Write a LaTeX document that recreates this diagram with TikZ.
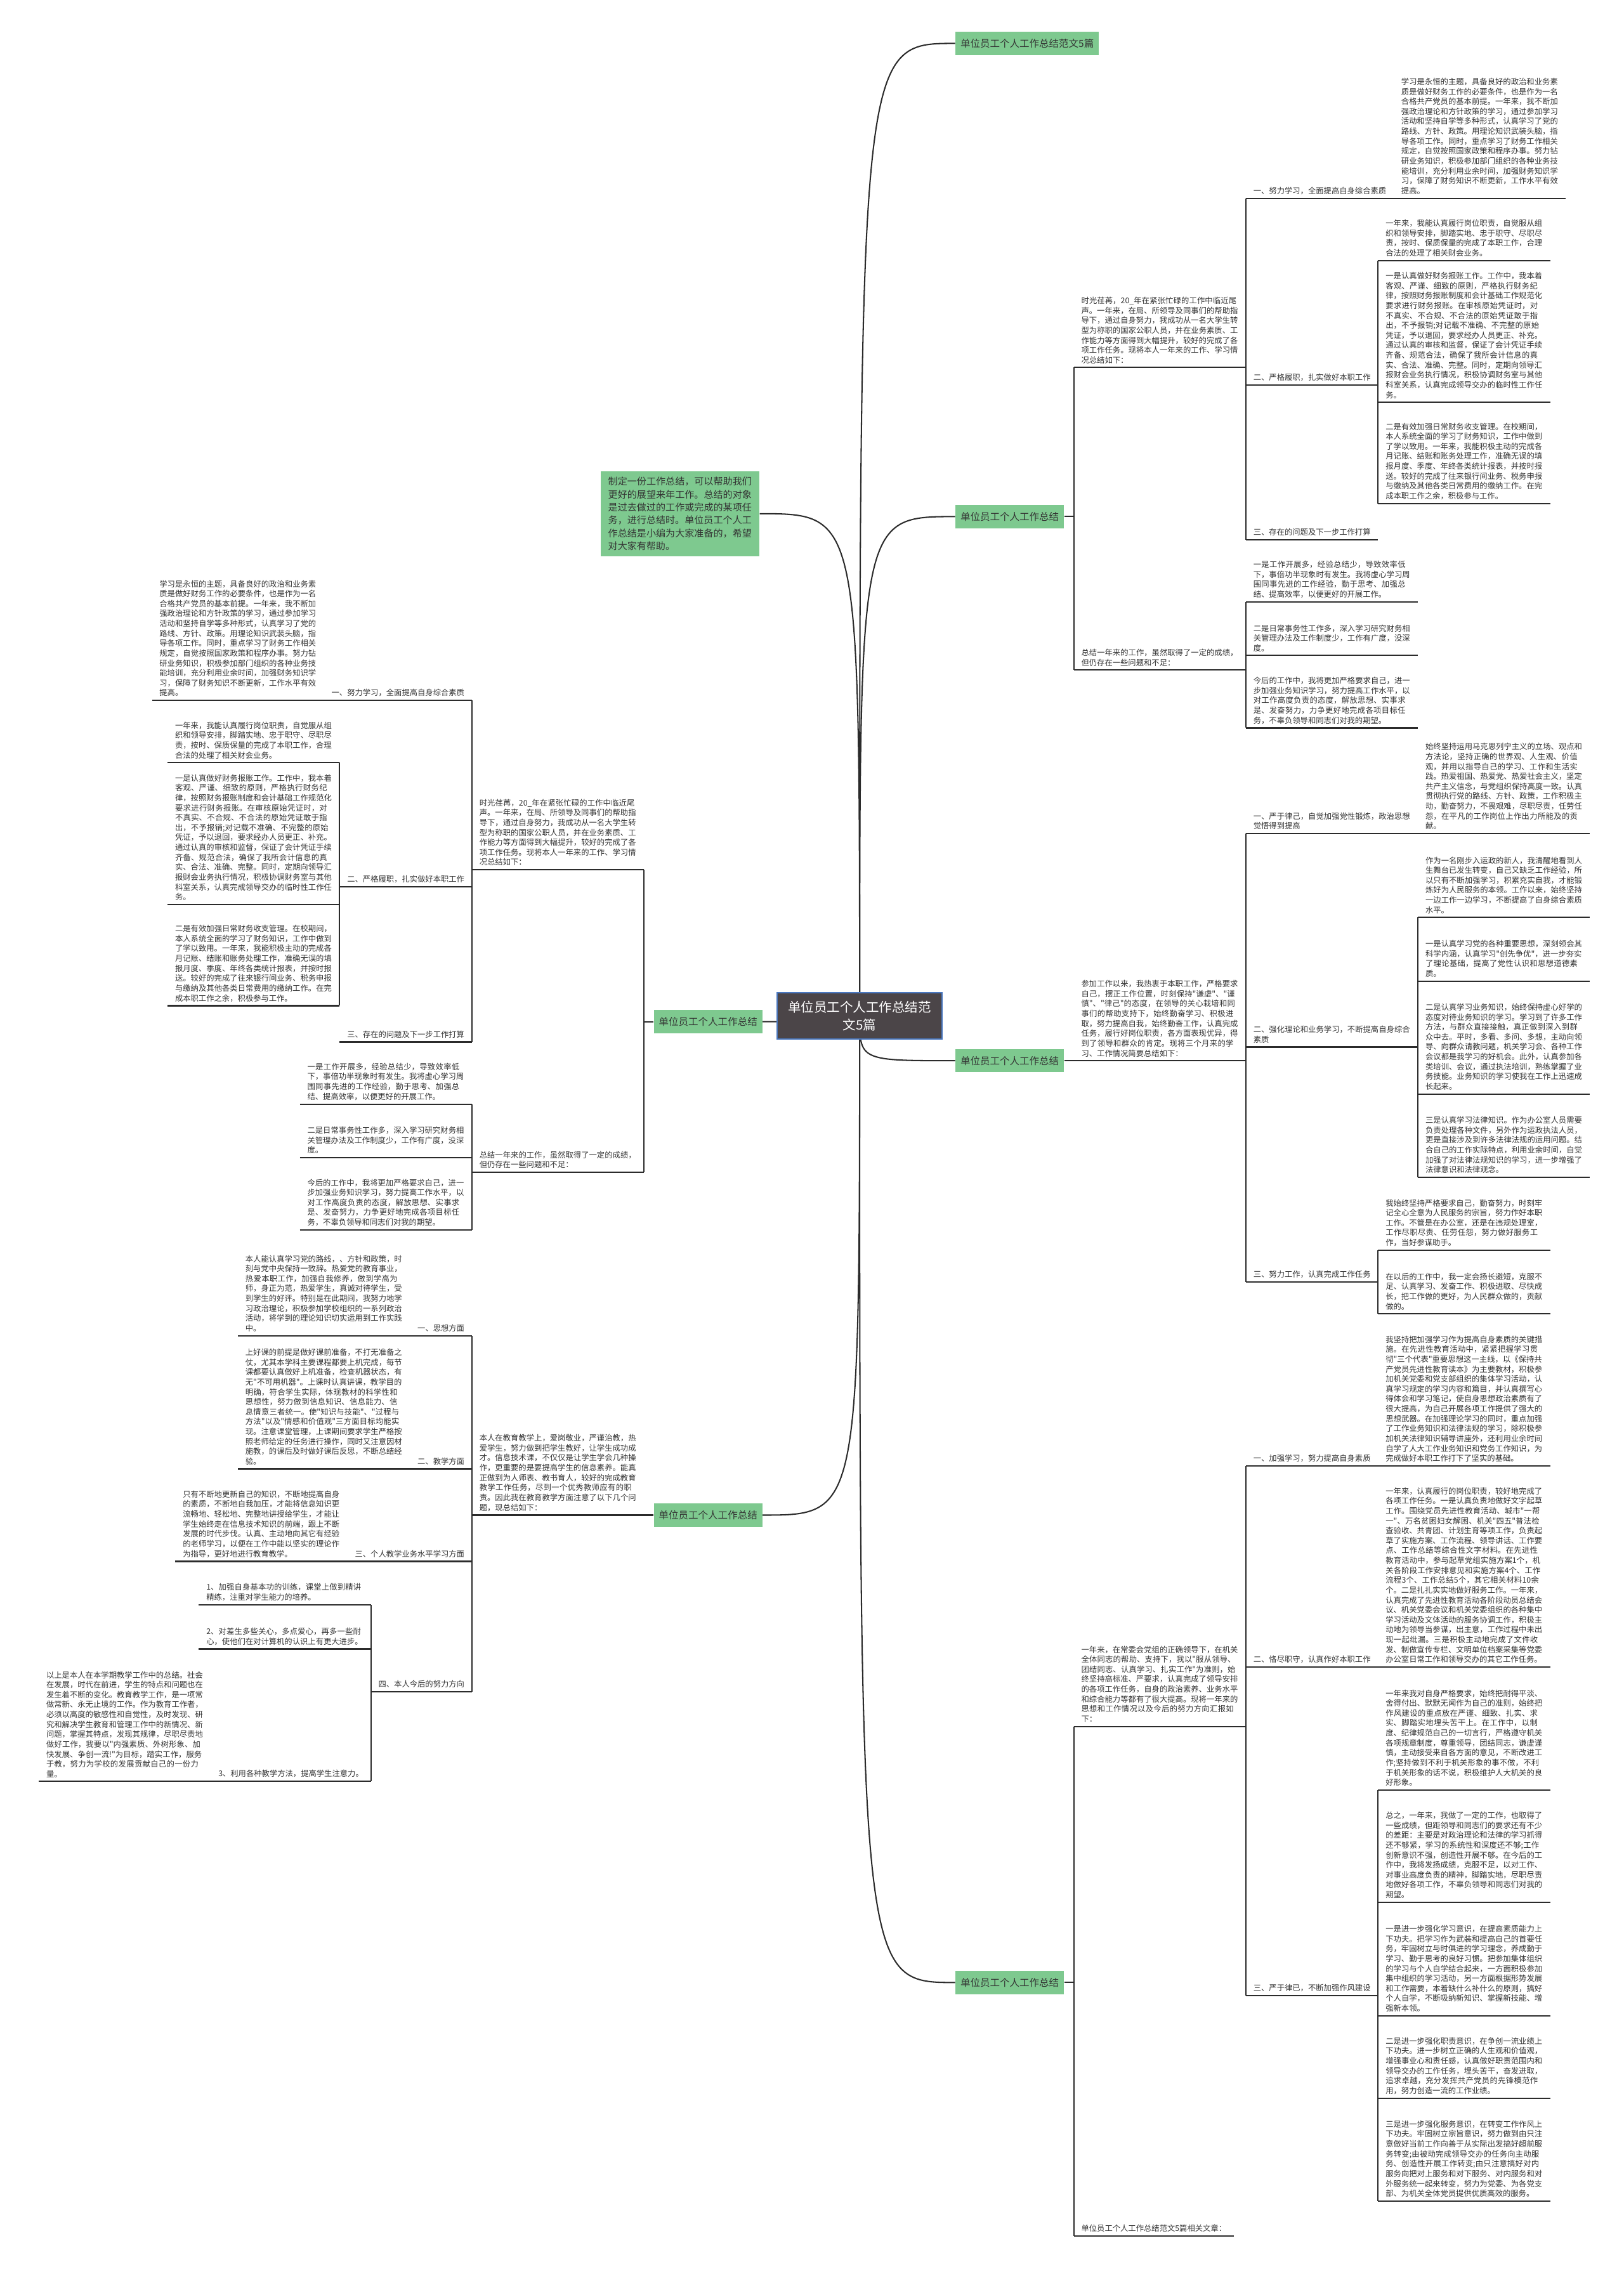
\documentclass[tikz,border=0pt]{standalone}
\usepackage{fontspec}
\usepackage{xcolor}
\usepackage{tikz}
\newfontfamily\cjk{Noto Sans CJK SC}
\XeTeXlinebreaklocale "zh"
\XeTeXlinebreakskip=0pt plus 0.5pt

\definecolor{lnk}{HTML}{2B2B2B}
\definecolor{ink}{HTML}{333333}
\definecolor{leafgreen}{RGB}{126,201,143}
\definecolor{rootfill}{HTML}{4B4548}
\definecolor{rootline}{HTML}{4A78C0}

% texts used on both sides
\newcommand{\tShiguang}{时光荏苒，20\_年在紧张忙碌的工作中临近尾声。一年来，在局、所领导及同事们的帮助指导下，通过自身努力，我成功从一名大学生转型为称职的国家公职人员，并在业务素质、工作能力等方面得到大幅提升，较好的完成了各项工作任务。现将本人一年来的工作、学习情况总结如下：}
\newcommand{\tZongjie}{总结一年来的工作，虽然取得了一定的成绩，但仍存在一些问题和不足：}
\newcommand{\tHeadA}{一、努力学习，全面提高自身综合素质}
\newcommand{\tStudy}{学习是永恒的主题，具备良好的政治和业务素质是做好财务工作的必要条件，也是作为一名合格共产党员的基本前提。一年来，我不断加强政治理论和方针政策的学习，通过参加学习活动和坚持自学等多种形式，认真学习了党的路线、方针、政策。用理论知识武装头脑，指导各项工作。同时，重点学习了财务工作相关规定，自觉按照国家政策和程序办事。努力钻研业务知识，积极参加部门组织的各种业务技能培训，充分利用业余时间，加强财务知识学习，保障了财务知识不断更新，工作水平有效提高。}
\newcommand{\tHeadB}{二、严格履职，扎实做好本职工作}
\newcommand{\tDutyA}{一年来，我能认真履行岗位职责，自觉服从组织和领导安排，脚踏实地、忠于职守、尽职尽责，按时、保质保量的完成了本职工作，合理合法的处理了相关财会业务。}
\newcommand{\tDutyB}{一是认真做好财务报账工作。工作中，我本着客观、严谨、细致的原则，严格执行财务纪律，按照财务报账制度和会计基础工作规范化要求进行财务报账。在审核原始凭证时，对不真实、不合规、不合法的原始凭证敢于指出，不予报销;对记载不准确、不完整的原始凭证，予以退回，要求经办人员更正、补充。通过认真的审核和监督，保证了会计凭证手续齐备、规范合法，确保了我所会计信息的真实、合法、准确、完整。同时，定期向领导汇报财会业务执行情况，积极协调财务室与其他科室关系，认真完成领导交办的临时性工作任务。}
\newcommand{\tDutyC}{二是有效加强日常财务收支管理。在校期间，本人系统全面的学习了财务知识，工作中做到了学以致用。一年来，我能积极主动的完成各月记账、结账和账务处理工作，准确无误的填报月度、季度、年终各类统计报表，并按时报送。较好的完成了往来银行间业务、税务申报与缴纳及其他各类日常费用的缴纳工作。在完成本职工作之余，积极参与工作。}
\newcommand{\tHeadC}{三、存在的问题及下一步工作打算}
\newcommand{\tSumA}{一是工作开展多，经验总结少，导致效率低下，事倍功半现象时有发生。我将虚心学习周围同事先进的工作经验，勤于思考、加强总结、提高效率，以便更好的开展工作。}
\newcommand{\tSumB}{二是日常事务性工作多，深入学习研究财务相关管理办法及工作制度少，工作有广度，没深度。}
\newcommand{\tSumC}{今后的工作中，我将更加严格要求自己，进一步加强业务知识学习，努力提高工作水平，以对工作高度负责的态度，解放思想、实事求是、发奋努力，力争更好地完成各项目标任务，不辜负领导和同志们对我的期望。}

\tikzset{
  link/.style={draw=lnk, line width=0.9pt},
  txt/.style={font=\cjk\fontsize{5.4pt}{6.85pt}\selectfont, text=ink, inner xsep=5pt, inner ysep=2.5pt},
  blockr/.style={txt, text width=108.5pt, align=left, anchor=south west},
  blockl/.style={blockr, anchor=south east},
  headr/.style={txt, anchor=south west},
  headl/.style={txt, anchor=south east},
  branch/.style={fill=leafgreen, text=ink, font=\cjk\fontsize{6.8pt}{8pt}\selectfont, inner xsep=3.5pt, inner ysep=0pt, minimum height=16pt},
  intro/.style={fill=leafgreen, text=ink, font=\cjk\fontsize{6.6pt}{8.9pt}\selectfont, text width=99.5pt, align=left, inner xsep=5pt, inner ysep=4pt},
  root/.style={fill=rootfill, draw=rootline, line width=0.8pt, text=white, font=\cjk\fontsize{9pt}{12.5pt}\selectfont, align=center, inner xsep=7.5pt, inner ysep=5.5pt}
}

\begin{document}
\begin{tikzpicture}[x=1pt, y=-1pt]
  \useasboundingbox (0,0) rectangle (1122,1568);
  \fill[white] (0,0) rectangle (1122,1568);
  \coordinate (cc) at (594,702);

  % main topics
  \node[branch, anchor=west] (rb1) at (660,30) {单位员工个人工作总结范文5篇};
  \node[branch, anchor=west] (rb2) at (660,357) {单位员工个人工作总结};
  \node[branch, anchor=west] (rb3) at (660,733) {单位员工个人工作总结};
  \node[branch, anchor=west] (rb4) at (660,1370) {单位员工个人工作总结};
  \node[branch, anchor=east] (lb1) at (527,706) {单位员工个人工作总结};
  \node[branch, anchor=east] (lb2) at (527,1047) {单位员工个人工作总结};
  \node[intro] (intro) at (470,355) {制定一份工作总结，可以帮助我们更好的展望来年工作。总结的对象是过去做过的工作或完成的某项任务，进行总结时。单位员工个人工作总结是小编为大家准备的，希望对大家有帮助。};

  % right, topic 2
  \node[blockr] (r2time) at (742,254) {\tShiguang};
  \node[blockr] (r2sum) at (742,463) {\tZongjie};
  \node[headr] (r2h1) at (r2time.south east |- 0,137) {\tHeadA};
  \node[blockr] (r2h1t) at (r2h1.south east) {\tStudy};
  \node[headr] (r2h2) at (r2time.south east |- 0,266) {\tHeadB};
  \node[blockr] (r2h2a) at (r2h2.south east |- 0,180) {\tDutyA};
  \node[blockr] (r2h2b) at (r2h2.south east |- 0,278) {\tDutyB};
  \node[blockr] (r2h2c) at (r2h2.south east |- 0,348) {\tDutyC};
  \node[headr] (r2h3) at (r2time.south east |- 0,373) {\tHeadC};
  \node[blockr] (r2s1) at (r2sum.south east |- 0,416) {\tSumA};
  \node[blockr] (r2s2) at (r2sum.south east |- 0,453) {\tSumB};
  \node[blockr] (r2s3) at (r2sum.south east |- 0,503) {\tSumC};

  % right, topic 3
  \node[blockr] (r3join) at (742,733) {参加工作以来，我热衷于本职工作，严格要求自己，摆正工作位置，时刻保持"谦虚"、"谨慎"、"律己"的态度，在领导的关心栽培和同事们的帮助支持下，始终勤奋学习、积极进取，努力提高自我，始终勤奋工作，认真完成任务，履行好岗位职责，各方面表现优异，得到了领导和群众的肯定。现将三个月来的学习、工作情况简要总结如下：};
  \node[headr, text width=108.5pt, align=left] (r3h1) at (r3join.south east |- 0,576) {一、严于律己，自觉加强党性锻炼，政治思想觉悟得到提高};
  \node[blockr] (r3h1t) at (r3h1.south east) {始终坚持运用马克思列宁主义的立场、观点和方法论，坚持正确的世界观、人生观、价值观，并用以指导自己的学习、工作和生活实践。热爱祖国、热爱党、热爱社会主义，坚定共产主义信念，与党组织保持高度一致。认真贯彻执行党的路线、方针、政策，工作积极主动，勤奋努力，不畏艰难，尽职尽责，任劳任怨，在平凡的工作岗位上作出力所能及的贡献。};
  \node[headr, text width=108.5pt, align=left] (r3h2) at (r3join.south east |- 0,723.5) {二、强化理论和业务学习，不断提高自身综合素质};
  \node[blockr] (r3h2a) at (r3h2.south east |- 0,634) {作为一名刚步入运政的新人，我清醒地看到人生舞台已发生转变，自己又缺乏工作经验，所以只有不断加强学习，积累充实自我，才能锻炼好为人民服务的本领。工作以来，始终坚持一边工作一边学习，不断提高了自身综合素质水平。};
  \node[blockr] (r3h2b) at (r3h2.south east |- 0,678) {一是认真学习党的各种重要思想，深刻领会其科学内涵，认真学习"创先争优"，进一步夯实了理论基础，提高了党性认识和思想道德素质。};
  \node[blockr] (r3h2c) at (r3h2.south east |- 0,756) {二是认真学习业务知识，始终保持虚心好学的态度对待业务知识的学习。学习到了许多工作方法，与群众直接接触，真正做到深入到群众中去。平时，多看、多问、多想，主动向领导、向群众请教问题，机关学习会、各种工作会议都是我学习的好机会。此外，认真参加各类培训、会议，通过执法培训，熟练掌握了业务技能。业务知识的学习使我在工作上迅速成长起来。};
  \node[blockr] (r3h2d) at (r3h2.south east |- 0,813.5) {三是认真学习法律知识。作为办公室人员需要负责处理各种文件，另外作为运政执法人员，更是直接涉及到许多法律法规的运用问题。结合自己的工作实际特点，利用业余时间，自觉加强了对法律法规知识的学习，进一步增强了法律意识和法律观念。};
  \node[headr] (r3h3) at (r3join.south east |- 0,886) {三、努力工作，认真完成工作任务};
  \node[blockr] (r3h3a) at (r3h3.south east |- 0,864) {我始终坚持严格要求自己，勤奋努力，时刻牢记全心全意为人民服务的宗旨，努力作好本职工作。不管是在办公室，还是在违规处理室，工作尽职尽责、任劳任怨，努力做好服务工作，当好参谋助手。};
  \node[blockr] (r3h3b) at (r3h3.south east |- 0,908) {在以后的工作中，我一定会扬长避短，克服不足、认真学习、发奋工作、积极进取、尽快成长，把工作做的更好，为人民群众做的，贡献做的。};

  % right, topic 4
  \node[blockr] (r4year) at (742,1193) {一年来，在常委会党组的正确领导下，在机关全体同志的帮助、支持下，我以"服从领导、团结同志、认真学习、扎实工作"为准则，始终坚持高标准、严要求，认真完成了领导安排的各项工作任务，自身的政治素养、业务水平和综合能力等都有了很大提高。现将一年来的思想和工作情况以及今后的努力方向汇报如下：};
  \node[headr] (r4rel) at (742,1545) {单位员工个人工作总结范文5篇相关文章：};
  \node[headr] (r4h1) at (r4year.south east |- 0,1013) {一、加强学习，努力提高自身素质};
  \node[blockr] (r4h1t) at (r4h1.south east) {我坚持把加强学习作为提高自身素质的关键措施。在先进性教育活动中，紧紧把握学习贯彻"三个代表"重要思想这一主线，以《保持共产党员先进性教育读本》为主要教材，积极参加机关党委和党支部组织的集体学习活动，认真学习规定的学习内容和篇目，并认真撰写心得体会和学习笔记，使自身思想政治素质有了很大提高，为自己开展各项工作提供了强大的思想武器。在加强理论学习的同时，重点加强了工作业务知识和法律法规的学习，除积极参加机关法律知识辅导讲座外，还利用业余时间自学了人大工作业务知识和党务工作知识，为完成做好本职工作打下了坚实的基础。};
  \node[headr] (r4h2) at (r4year.south east |- 0,1152) {二、恪尽职守，认真作好本职工作};
  \node[blockr] (r4h2t) at (r4h2.south east) {一年来，认真履行的岗位职责，较好地完成了各项工作任务。一是认真负责地做好文字起草工作。围绕党员先进性教育活动、城市"一帮一"、万名贫困妇女解困、机关"四五"普法检查验收、共青团、计划生育等项工作，负责起草了实施方案、工作流程、领导讲话、工作要点、工作总结等综合性文字材料。在先进性教育活动中，参与起草党组实施方案1个，机关各阶段工作安排意见和实施方案4个、工作流程3个、工作总结5个，其它相关材料10余个。二是扎扎实实地做好服务工作。一年来，认真完成了先进性教育活动各阶段动员总结会议、机关党委会议和机关党委组织的各种集中学习活动及文体活动的服务协调工作，积极主动地为领导当参谋，出主意，工作过程中未出现一起纰漏。三是积极主动地完成了文件收发、制做宣传专栏、文明单位档案采集等党委办公室日常工作和领导交办的其它工作任务。};
  \node[headr] (r4h3) at (r4year.south east |- 0,1379) {三、严于律已，不断加强作风建设};
  \node[blockr] (r4h3a) at (r4h3.south east |- 0,1237) {一年来我对自身严格要求，始终把耐得平淡、舍得付出、默默无闻作为自己的准则，始终把作风建设的重点放在严谨、细致、扎实、求实、脚踏实地埋头苦干上。在工作中，以制度、纪律规范自己的一切言行，严格遵守机关各项规章制度，尊重领导，团结同志，谦虚谨慎，主动接受来自各方面的意见，不断改进工作;坚持做到不利于机关形象的事不做，不利于机关形象的话不说，积极维护人大机关的良好形象。};
  \node[blockr] (r4h3b) at (r4h3.south east |- 0,1314.5) {总之，一年来，我做了一定的工作，也取得了一些成绩，但距领导和同志们的要求还有不少的差距：主要是对政治理论和法律的学习抓得还不够紧，学习的系统性和深度还不够;工作创新意识不强，创造性开展不够。在今后的工作中，我将发扬成绩，克服不足，以对工作、对事业高度负责的精神，脚踏实地，尽职尽责地做好各项工作，不辜负领导和同志们对我的期望。};
  \node[blockr] (r4h3c) at (r4h3.south east |- 0,1393) {一是进一步强化学习意识，在提高素质能力上下功夫。把学习作为武装和提高自己的首要任务，牢固树立与时俱进的学习理念，养成勤于学习、勤于思考的良好习惯。把参加集体组织的学习与个人自学结合起来，一方面积极参加集中组织的学习活动，另一方面根据形势发展和工作需要，本着缺什么补什么的原则，搞好个人自学，不断吸纳新知识、掌握新技能、增强新本领。};
  \node[blockr] (r4h3d) at (r4h3.south east |- 0,1450) {二是进一步强化职责意识，在争创一流业绩上下功夫。进一步树立正确的人生观和价值观，增强事业心和责任感，认真做好职责范围内和领导交办的工作任务，埋头苦干，奋发进取，追求卓越，充分发挥共产党员的先锋模范作用，努力创造一流的工作业绩。};
  \node[blockr] (r4h3e) at (r4h3.south east |- 0,1521) {三是进一步强化服务意识，在转变工作作风上下功夫。牢固树立宗旨意识，努力做到由只注意做好当前工作向善于从实际出发搞好超前服务转变;由被动完成领导交办的任务向主动服务、创造性开展工作转变;由只注意搞好对内服务向把对上服务和对下服务、对内服务和对外服务统一起来转变，努力为党委、为各党支部、为机关全体党员提供优质高效的服务。};

  % left, topic 1
  \node[blockl] (l1time) at (445,601) {\tShiguang};
  \node[blockl] (l1sum) at (445,810) {\tZongjie};
  \node[headl] (l1h1) at (l1time.south west |- 0,484) {\tHeadA};
  \node[blockl] (l1h1t) at (l1h1.south west) {\tStudy};
  \node[headl] (l1h2) at (l1time.south west |- 0,613) {\tHeadB};
  \node[blockl] (l1h2a) at (l1h2.south west |- 0,527) {\tDutyA};
  \node[blockl] (l1h2b) at (l1h2.south west |- 0,625) {\tDutyB};
  \node[blockl] (l1h2c) at (l1h2.south west |- 0,695) {\tDutyC};
  \node[headl] (l1h3) at (l1time.south west |- 0,720) {\tHeadC};
  \node[blockl] (l1s1) at (l1sum.south west |- 0,763) {\tSumA};
  \node[blockl] (l1s2) at (l1sum.south west |- 0,800) {\tSumB};
  \node[blockl] (l1s3) at (l1sum.south west |- 0,850) {\tSumC};

  % left, topic 2
  \node[blockl] (l2teach) at (445,1047) {本人在教育教学上，爱岗敬业，严谨治教，热爱学生，努力做到把学生教好，让学生成功成才。信息技术课，不仅仅是让学生学会几种操作，更重要的是要提高学生的信息素养。能真正做到为人师表、教书育人，较好的完成教育教学工作任务，尽到一个优秀教师应有的职责。因此我在教育教学方面注意了以下几个问题，现总结如下：};
  \node[headl] (l2h1) at (l2teach.south west |- 0,923) {一、思想方面};
  \node[blockl] (l2h1t) at (l2h1.south west) {本人能认真学习党的路线，、方针和政策，时刻与党中央保持一致辞。热爱党的教育事业，热爱本职工作，加强自我修养，做到学高为师，身正为范，热爱学生，真诚对待学生，受到学生的好评。特别是在此期间，我努力地学习政治理论，积极参加学校组织的一系列政治活动，将学到的理论知识切实运用到工作实践中。};
  \node[headl] (l2h2) at (l2teach.south west |- 0,1015) {二、教学方面};
  \node[blockl] (l2h2t) at (l2h2.south west) {上好课的前提是做好课前准备，不打无准备之仗，尤其本学科主要课程都要上机完成，每节课都要认真做好上机准备，检查机器状态，有无"不可用机器"。上课时认真讲课，教学目的明确，符合学生实际，体现教材的科学性和思想性，努力做到信息知识、信息能力、信息情意三者统一。使"知识与技能"、"过程与方法"以及"情感和价值观"三方面目标均能实现。注意课堂管理，上课期间要求学生严格按照老师给定的任务进行操作，同时又注意因材施教，的课后及时做好课后反思，不断总结经验。};
  \node[headl] (l2h3) at (l2teach.south west |- 0,1079) {三、个人教学业务水平学习方面};
  \node[blockl] (l2h3t) at (l2h3.south west) {只有不断地更新自己的知识，不断地提高自身的素质，不断地自我加压，才能将信息知识更流畅地、轻松地、完整地讲授给学生，才能让学生始终走在信息技术知识的前端，跟上不断发展的时代步伐。认真、主动地向其它有经验的老师学习，以便在工作中能以坚实的理论作为指导，更好地进行教育教学。};
  \node[headl] (l2h4) at (l2teach.south west |- 0,1169) {四、本人今后的努力方向};
  \node[blockl] (l2h4a) at (l2h4.south west |- 0,1109) {1、加强自身基本功的训练，课堂上做到精讲精练，注重对学生能力的培养。};
  \node[blockl] (l2h4b) at (l2h4.south west |- 0,1139.5) {2、对差生多些关心，多点爱心，再多一些耐心，使他们在对计算机的认识上有更大进步。};
  \node[headl] (l2h4c) at (l2h4.south west |- 0,1231) {3、利用各种教学方法，提高学生注意力。};
  \node[blockl] (l2h4ct) at (l2h4c.south west) {以上是本人在本学期教学工作中的总结。社会在发展，时代在前进，学生的特点和问题也在发生着不断的变化。教育教学工作，是一项常做常新、永无止境的工作。作为教育工作者，必须以高度的敏感性和自觉性，及时发现、研究和解决学生教育和管理工作中的新情况、新问题，掌握其特点，发现其规律，尽职尽责地做好工作，我要以"内强素质、外树形象、加快发展、争创一流!"为目标，踏实工作，服务于教，努力为学校的发展贡献自己的一份力量。};

  % underlines
  \foreach \n in {r2time,r2sum,r2h1,r2h1t,r2h2,r2h2a,r2h2b,r2h2c,r2h3,r2s1,r2s2,r2s3,
      r3join,r3h1,r3h1t,r3h2,r3h2a,r3h2b,r3h2c,r3h2d,r3h3,r3h3a,r3h3b,
      r4year,r4rel,r4h1,r4h1t,r4h2,r4h2t,r4h3,r4h3a,r4h3b,r4h3c,r4h3d,r4h3e,
      l1time,l1sum,l1h1,l1h1t,l1h2,l1h2a,l1h2b,l1h2c,l1h3,l1s1,l1s2,l1s3,
      l2teach,l2h1,l2h1t,l2h2,l2h2t,l2h3,l2h3t,l2h4,l2h4a,l2h4b,l2h4c,l2h4ct}
    \draw[link] (\n.south west) -- (\n.south east);

  % topic links
  \draw[link] (rb2.east) -| (r2time.south west);
  \draw[link] (rb2.east) -| (r2sum.south west);
  \draw[link] (rb3.east) -| (r3join.south west);
  \draw[link] (rb4.east) -| (r4year.south west);
  \draw[link] (rb4.east) -| (r4rel.south west);
  \draw[link] (lb1.west) -| (l1time.south east);
  \draw[link] (lb1.west) -| (l1sum.south east);
  \draw[link] (lb2.west) -| (l2teach.south east);

  % right elbows
  \foreach \p/\c in {r2time/r2h1, r2time/r2h2, r2time/r2h3, r2h2/r2h2a, r2h2/r2h2b, r2h2/r2h2c,
      r2sum/r2s1, r2sum/r2s2, r2sum/r2s3,
      r3join/r3h1, r3join/r3h2, r3join/r3h3, r3h2/r3h2a, r3h2/r3h2b, r3h2/r3h2c, r3h2/r3h2d,
      r3h3/r3h3a, r3h3/r3h3b,
      r4year/r4h1, r4year/r4h2, r4year/r4h3, r4h3/r4h3a, r4h3/r4h3b, r4h3/r4h3c, r4h3/r4h3d, r4h3/r4h3e}
    \draw[link] (\p.south east) |- (\c.south west);

  % left elbows
  \foreach \p/\c in {l1time/l1h1, l1time/l1h2, l1time/l1h3, l1h2/l1h2a, l1h2/l1h2b, l1h2/l1h2c,
      l1sum/l1s1, l1sum/l1s2, l1sum/l1s3,
      l2teach/l2h1, l2teach/l2h2, l2teach/l2h3, l2teach/l2h4, l2h4/l2h4a, l2h4/l2h4b, l2h4/l2h4c}
    \draw[link] (\p.south west) |- (\c.south east);

  % curves from the centre
  \draw[link] (cc) .. controls (cc |- rb1.west) .. (rb1.west);
  \draw[link] (cc) .. controls (cc |- intro.east) .. (intro.east);
  \draw[link] (cc) .. controls (cc |- rb2.west) .. (rb2.west);
  \draw[link] (cc) .. controls (cc |- lb1.east) .. (lb1.east);
  \draw[link] (cc) .. controls (cc |- rb3.west) .. (rb3.west);
  \draw[link] (cc) .. controls (cc |- lb2.east) .. (lb2.east);
  \draw[link] (cc) .. controls (cc |- rb4.west) .. (rb4.west);

  % centre
  \node[root] (root) at (cc) {单位员工个人工作总结范\\文5篇};
\end{tikzpicture}
\end{document}
